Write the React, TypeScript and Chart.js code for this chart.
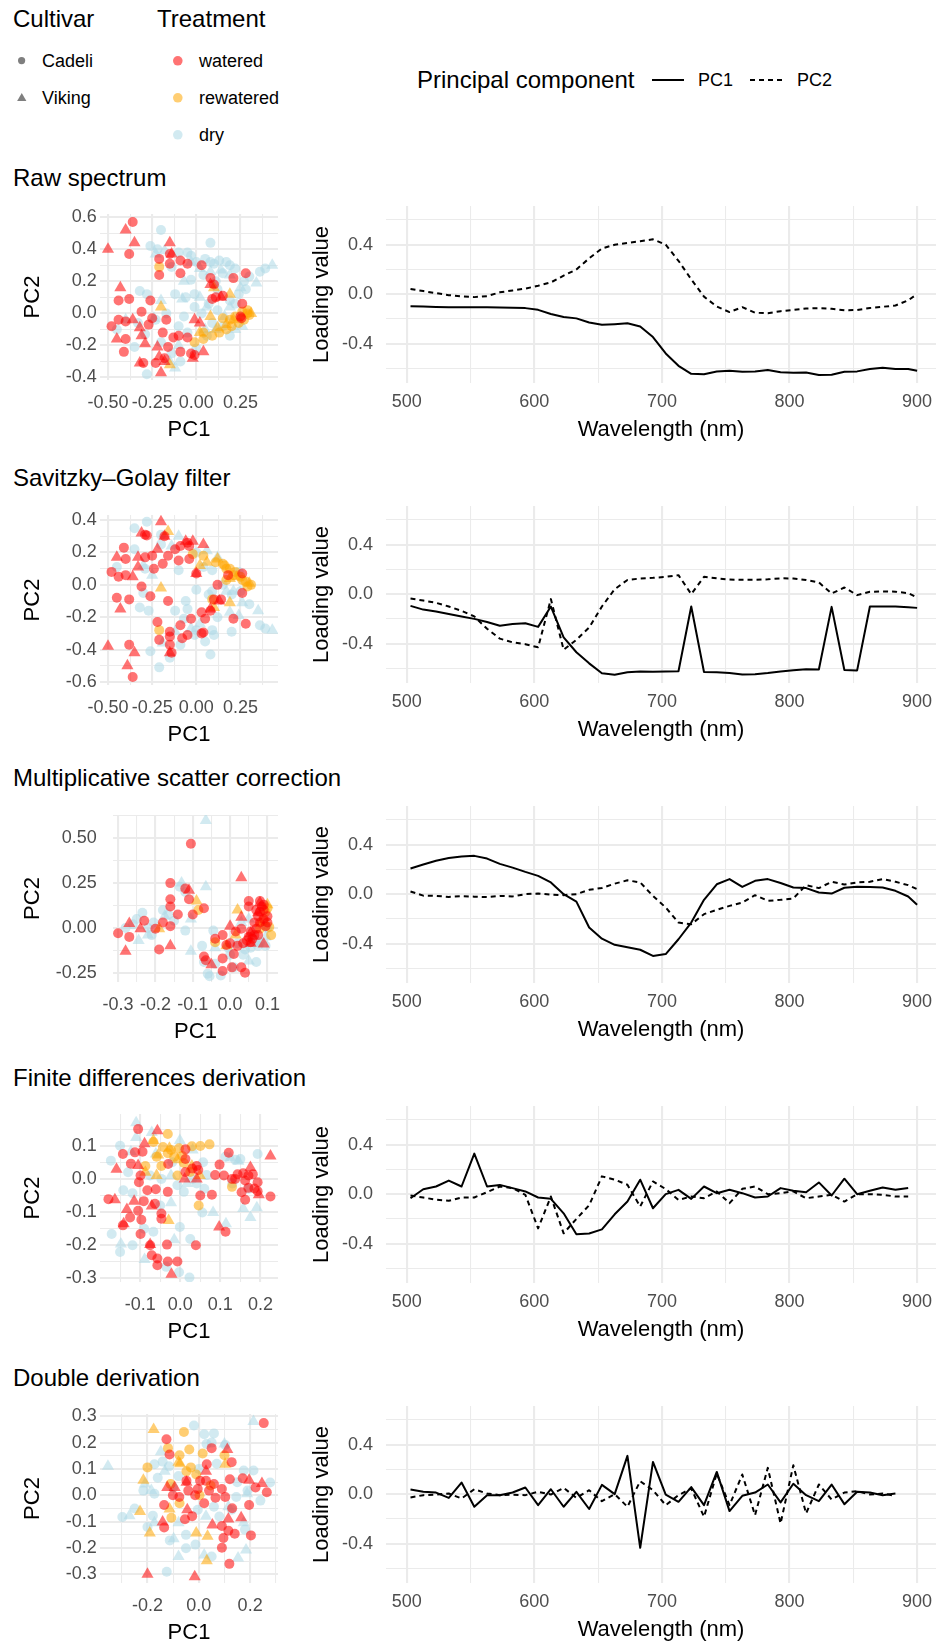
import React, { useEffect, useRef } from "react";
import { Chart, registerables } from "chart.js";
Chart.register(...registerables);

const FONT = "'Liberation Sans', Arial, Helvetica, sans-serif";
const GRID = "#EBEBEB";
const TICK_COLOR = "#4D4D4D";
const C_WATERED = "rgba(255,0,0,0.55)";
const C_REWATERED = "rgba(255,165,0,0.55)";
const C_DRY = "rgba(173,216,230,0.55)";

// ---------------- DATA ----------------
const rowTitles = ["Raw spectrum", "Savitzky–Golay filter", "Multiplicative scatter correction", "Finite differences derivation", "Double derivation"];

const wavelengths = [503, 513, 523, 533, 543, 553, 563, 573, 583, 593, 603, 613, 623, 633, 643, 653, 663, 673, 683, 693, 703, 713, 723, 733, 743, 753, 763, 773, 783, 793, 803, 813, 823, 833, 843, 853, 863, 873, 883, 893, 900];
const wavelengthsFD = wavelengths.slice(0, 40);
const wavelengthsDD = wavelengths.slice(0, 39);

const rawPC1 = [-0.097, -0.1, -0.103, -0.105, -0.105, -0.105, -0.106, -0.108, -0.11, -0.113, -0.127, -0.16, -0.185, -0.196, -0.229, -0.248, -0.243, -0.236, -0.261, -0.347, -0.48, -0.58, -0.645, -0.648, -0.626, -0.62, -0.628, -0.625, -0.614, -0.632, -0.636, -0.634, -0.655, -0.653, -0.628, -0.625, -0.605, -0.595, -0.606, -0.605, -0.62];
const rawPC2 = [0.042, 0.025, 0.008, -0.008, -0.018, -0.024, -0.016, 0.015, 0.03, 0.045, 0.068, 0.095, 0.15, 0.2, 0.29, 0.37, 0.4, 0.415, 0.428, 0.444, 0.4, 0.27, 0.12, -0.02, -0.1, -0.145, -0.105, -0.15, -0.155, -0.138, -0.127, -0.116, -0.113, -0.118, -0.13, -0.128, -0.112, -0.102, -0.092, -0.05, 0.0];
const sgPC1 = [-0.095, -0.125, -0.14, -0.16, -0.18, -0.2, -0.225, -0.255, -0.242, -0.235, -0.265, -0.1, -0.35, -0.47, -0.56, -0.64, -0.652, -0.632, -0.625, -0.628, -0.625, -0.624, -0.1, -0.63, -0.632, -0.638, -0.651, -0.648, -0.638, -0.625, -0.615, -0.607, -0.61, -0.103, -0.614, -0.617, -0.1, -0.1, -0.1, -0.105, -0.111];
const sgPC2 = [-0.035, -0.052, -0.07, -0.1, -0.135, -0.18, -0.28, -0.36, -0.39, -0.405, -0.43, -0.04, -0.45, -0.37, -0.27, -0.1, 0.04, 0.115, 0.127, 0.132, 0.14, 0.154, 0.0, 0.14, 0.128, 0.118, 0.116, 0.116, 0.12, 0.128, 0.127, 0.115, 0.095, 0.005, 0.054, -0.008, 0.019, 0.022, 0.02, 0.008, -0.027];
const mscPC1 = [0.208, 0.24, 0.27, 0.292, 0.305, 0.31, 0.288, 0.245, 0.215, 0.18, 0.148, 0.095, 0.0, -0.06, -0.27, -0.36, -0.41, -0.43, -0.45, -0.5, -0.485, -0.365, -0.23, -0.046, 0.08, 0.122, 0.059, 0.108, 0.122, 0.09, 0.054, 0.049, 0.014, 0.005, 0.052, 0.06, 0.058, 0.054, 0.027, -0.019, -0.085];
const mscPC2 = [0.022, -0.012, -0.014, -0.022, -0.016, -0.02, -0.024, -0.014, -0.018, 0.0, 0.005, -0.004, -0.008, 0.0, 0.035, 0.05, 0.085, 0.112, 0.095, -0.014, -0.108, -0.23, -0.243, -0.162, -0.127, -0.095, -0.068, -0.008, -0.054, -0.046, -0.035, 0.073, 0.049, 0.1, 0.078, 0.095, 0.1, 0.122, 0.1, 0.073, 0.041];
const fdPC1 = [-0.033, 0.04, 0.062, 0.11, 0.062, 0.328, 0.062, 0.075, 0.049, 0.022, -0.027, -0.038, -0.155, -0.325, -0.318, -0.285, -0.163, -0.06, 0.117, -0.114, 0.0, 0.035, -0.038, 0.062, 0.008, 0.035, 0.008, -0.027, -0.019, 0.049, 0.027, 0.016, 0.095, -0.011, 0.125, 0.0, 0.027, 0.054, 0.035, 0.049];
const fdPC2 = [-0.011, -0.027, -0.045, -0.054, -0.027, -0.027, 0.016, 0.062, 0.049, -0.005, -0.277, -0.019, -0.317, -0.2, -0.09, 0.144, 0.117, 0.076, -0.1, 0.103, 0.041, -0.046, -0.019, -0.033, 0.022, -0.073, 0.043, 0.062, 0.0, 0.008, 0.022, -0.033, -0.019, -0.005, -0.06, 0.0, 0.0, -0.005, -0.019, -0.019];
const ddPC1 = [0.038, 0.02, 0.013, -0.03, 0.094, -0.102, -0.008, -0.008, 0.013, 0.054, -0.089, 0.04, -0.102, 0.019, -0.12, 0.075, 0.0, 0.31, -0.434, 0.261, -0.003, -0.062, 0.057, -0.089, 0.18, -0.137, -0.013, 0.013, 0.078, -0.067, 0.084, -0.008, -0.057, 0.078, -0.081, 0.019, 0.013, -0.008, 0.005];
const ddPC2 = [-0.027, -0.008, -0.003, 0.005, -0.035, 0.04, 0.005, -0.008, -0.005, -0.008, 0.019, -0.003, 0.051, -0.03, 0.032, -0.057, 0.0, -0.102, 0.105, 0.032, -0.089, -0.008, 0.046, -0.183, 0.167, -0.089, 0.159, -0.17, 0.213, -0.237, 0.234, -0.156, 0.078, -0.043, 0.013, 0.024, -0.003, 0.005, -0.013];

type P = [number, number];
const rawWateredCadeli: P[] = [[-0.36,0.57],[-0.38,0.37],[-0.15,0.37],[-0.21,0.34],[-0.15,0.31],[-0.09,0.33],[-0.05,0.31],[0.03,0.30],[-0.21,0.24],[-0.09,0.25],[0.08,0.22],[0.21,0.22],[0.28,0.25],[0.10,0.18],[-0.44,0.08],[-0.38,0.09],[-0.26,0.08],[-0.31,0.01],[-0.25,-0.03],[-0.17,-0.04],[-0.44,-0.04],[-0.40,-0.05],[-0.48,-0.08],[-0.27,-0.07],[-0.19,-0.12],[-0.40,-0.16],[-0.41,-0.24],[-0.10,-0.14],[-0.05,-0.15],[-0.13,-0.15],[-0.09,-0.24],[-0.03,-0.25],[-0.01,-0.26],[-0.30,-0.31],[-0.23,-0.31],[-0.18,-0.28],[-0.16,-0.21],[0.26,0.06],[0.25,-0.02],[0.11,0.10],[0.15,0.11],[0.09,0.09],[0.255,-0.03]];
const rawWateredViking: P[] = [[-0.40,0.52],[-0.35,0.44],[-0.50,0.40],[-0.15,0.44],[-0.14,0.37],[-0.43,0.16],[0.08,0.18],[0.14,0.10],[-0.45,-0.16],[-0.36,-0.04],[-0.32,-0.09],[-0.31,-0.14],[-0.29,-0.19],[-0.22,-0.21],[-0.21,-0.27],[-0.20,-0.37],[-0.32,-0.31],[-0.01,-0.04],[0.02,-0.06],[-0.02,-0.28],[0.04,-0.24],[-0.18,-0.30]];
const rawRewateredCadeli: P[] = [[-0.21,0.29],[-0.01,-0.18],[0.04,-0.16],[0.19,-0.04],[0.22,-0.02],[0.26,0.01],[0.29,0.02],[0.29,0.0],[0.27,-0.04],[0.24,-0.06],[0.20,-0.08],[0.17,-0.10],[0.13,-0.12],[0.09,-0.14],[0.04,-0.12],[0.30,-0.01],[0.15,-0.03]];
const rawRewateredViking: P[] = [[-0.20,0.04],[0.19,0.12],[0.10,0.16],[0.02,-0.12],[0.12,-0.09],[0.17,-0.07],[0.21,-0.04],[0.31,0.0],[-0.15,-0.32],[0.08,-0.02]];
const rawDryCadeli: P[] = [[-0.20,0.52],[-0.26,0.42],[0.08,0.44],[-0.10,0.38],[-0.03,0.36],[0.00,0.32],[0.10,0.31],[0.19,0.30],[0.15,0.25],[-0.03,0.21],[-0.06,0.10],[-0.01,0.04],[-0.32,0.14],[-0.28,0.12],[-0.10,-0.08],[-0.29,-0.13],[-0.35,-0.21],[-0.28,-0.38],[-0.45,-0.10],[0.36,0.26],[0.39,0.28],[0.19,0.08],[0.22,0.06],[0.12,0.02],[0.09,-0.06],[0.06,-0.14],[0.19,-0.14],[-0.14,-0.25],[-0.09,-0.30],[0.08,0.32],[0.04,0.24],[-0.14,0.29],[0.17,0.32],[-0.07,-0.02],[0.0,-0.22],[-0.23,-0.04],[0.24,0.12],[0.27,0.20],[0.11,0.20],[-0.01,0.12],[-0.22,0.40],[-0.05,0.38],[0.05,0.34],[0.13,0.33],[0.22,0.28],[0.30,0.23],[-0.12,0.12],[-0.17,0.0],[0.03,0.0],[0.07,0.06],[-0.05,-0.12],[-0.20,-0.18],[-0.33,-0.06],[0.15,-0.08],[0.28,0.15],[0.12,0.15]];
const rawDryViking: P[] = [[-0.23,0.37],[-0.18,0.39],[-0.03,0.32],[0.02,0.28],[0.08,0.26],[0.19,0.24],[0.34,0.19],[0.43,0.30],[-0.20,0.08],[-0.24,-0.03],[0.05,-0.10],[0.11,-0.10],[-0.15,-0.30],[0.19,0.04],[0.22,-0.10],[0.26,-0.08],[0.02,0.10],[-0.08,0.09],[-0.40,-0.04],[-0.12,-0.34],[0.14,0.27],[0.25,0.16],[-0.07,0.20],[0.06,0.04],[0.16,-0.02],[-0.10,-0.20]];

const sgWateredCadeli: P[] = [[-0.29,0.31],[-0.28,0.305],[-0.41,0.23],[-0.40,0.16],[-0.48,0.08],[-0.44,0.05],[-0.40,0.06],[-0.31,-0.01],[-0.45,-0.08],[-0.38,-0.09],[-0.26,-0.07],[-0.16,-0.10],[-0.29,0.17],[-0.25,0.18],[-0.24,0.10],[-0.19,0.13],[-0.16,0.18],[-0.18,0.30],[-0.12,0.22],[-0.09,0.24],[-0.05,0.26],[-0.04,0.24],[-0.10,0.15],[-0.04,0.16],[0.00,0.07],[0.12,0.00],[0.18,0.06],[0.26,0.07],[0.26,-0.05],[0.10,-0.09],[0.14,-0.09],[0.08,-0.16],[0.03,-0.17],[-0.03,-0.21],[0.05,-0.21],[0.21,-0.21],[0.28,-0.24],[-0.09,-0.25],[-0.22,-0.23],[-0.08,-0.33],[-0.05,-0.31],[-0.15,-0.29],[-0.15,-0.32],[-0.15,-0.37],[-0.21,-0.34],[-0.14,-0.42],[0.03,-0.30],[0.04,-0.295],[-0.38,-0.37],[-0.36,-0.57]];
const sgWateredViking: P[] = [[-0.20,0.39],[-0.31,0.32],[-0.18,0.30],[-0.22,0.22],[-0.45,0.17],[-0.33,0.17],[-0.33,0.11],[-0.36,0.05],[-0.06,0.27],[-0.02,0.27],[0.04,0.25],[0.0,0.07],[0.13,-0.10],[0.08,-0.15],[-0.43,-0.15],[-0.50,-0.38],[-0.35,-0.42],[-0.39,-0.50],[-0.15,-0.42]];
const sgRewateredCadeli: P[] = [[-0.02,0.19],[0.04,0.18],[0.11,0.14],[0.16,0.12],[0.19,0.10],[0.22,0.08],[0.25,0.05],[0.28,0.02],[0.31,0.0],[0.29,-0.01],[0.26,0.03],[0.17,0.03],[0.09,-0.09],[-0.21,-0.28],[0.15,0.13],[0.17,0.10],[0.21,0.06]];
const sgRewateredViking: P[] = [[-0.16,0.33],[0.02,0.12],[0.06,0.14],[0.12,0.16],[0.19,0.04],[0.23,0.05],[0.30,0.01],[-0.20,-0.02],[0.19,-0.11],[0.10,-0.14]];
const sgDryCadeli: P[] = [[-0.28,0.39],[-0.20,0.31],[-0.35,0.22],[-0.45,0.11],[-0.29,0.10],[-0.10,0.09],[0.04,0.11],[0.09,0.09],[0.0,-0.03],[0.07,-0.06],[-0.06,-0.10],[-0.32,-0.14],[-0.27,-0.16],[-0.12,-0.16],[-0.07,-0.21],[0.0,-0.28],[0.09,-0.28],[0.10,-0.31],[0.20,-0.29],[0.36,-0.25],[0.39,-0.27],[0.20,-0.06],[0.25,-0.04],[0.09,-0.04],[-0.26,-0.41],[-0.21,-0.51],[0.08,-0.43],[-0.09,-0.37],[-0.01,-0.31],[0.24,0.08],[-0.35,0.35],[-0.20,0.25],[0.0,0.20],[0.15,0.0],[0.30,-0.12],[-0.05,-0.15],[0.12,-0.20],[-0.30,-0.05],[0.05,-0.35],[-0.15,-0.45]];
const sgDryViking: P[] = [[-0.10,0.30],[-0.14,0.24],[0.06,0.21],[0.12,0.17],[-0.25,0.06],[-0.30,0.12],[0.17,-0.04],[0.21,-0.04],[0.26,-0.11],[0.35,-0.16],[0.43,-0.28],[0.19,-0.17],[0.24,-0.19],[-0.19,-0.36],[-0.12,-0.29],[-0.03,-0.27],[0.02,-0.24]];

const mscWateredCadeli: P[] = [[-0.105,0.47],[-0.16,0.25],[-0.12,0.22],[-0.16,0.16],[-0.11,0.16],[-0.16,0.12],[-0.14,0.075],[-0.10,0.075],[-0.07,0.11],[-0.23,0.04],[-0.18,0.03],[-0.16,0.01],[-0.20,-0.005],[-0.27,-0.05],[-0.30,-0.03],[-0.19,-0.12],[-0.04,-0.06],[-0.02,-0.04],[-0.01,-0.095],[0.01,-0.145],[-0.02,-0.17],[-0.07,-0.16],[-0.065,-0.18],[-0.02,-0.24],[0.005,-0.22],[0.03,-0.22],[0.04,-0.25],[0.05,0.15],[0.05,0.12],[0.03,-0.005],[0.035,-0.085],[0.055,-0.08],[0.075,-0.04],[0.075,0.065],[0.08,0.09],[0.09,0.05],[0.10,0.065],[0.07,-0.005],[0.055,-0.02],[0.05,-0.05],[0.08,0.15],[0.09,0.10],[0.095,0.01],[0.065,0.03],[0.015,-0.02],[0.0,-0.085],[0.085,0.12],[0.06,-0.06],[0.08,0.03],[0.07,0.10],[0.09,0.13],[0.10,0.03],[0.065,-0.04],[0.045,-0.07],[0.02,-0.10]];
const mscWateredViking: P[] = [[-0.11,0.21],[0.03,0.28],[-0.27,0.025],[-0.24,-0.005],[-0.28,-0.13],[-0.16,-0.10],[0.0,0.01],[0.03,0.06],[-0.05,-0.205],[0.055,-0.03],[0.08,0.14],[0.09,-0.09],[0.055,-0.085],[0.075,0.085]];
const mscRewateredCadeli: P[] = [[-0.085,0.10],[-0.04,-0.08],[0.10,0.11],[0.105,0.005],[0.11,-0.04],[0.095,0.09],[0.09,0.04],[0.08,-0.005]];
const mscRewateredViking: P[] = [[-0.09,0.15],[0.02,0.10],[0.015,-0.04],[0.10,0.13],[-0.01,-0.10],[0.08,0.03],[-0.19,-0.005]];
const mscDryCadeli: P[] = [[-0.25,0.05],[-0.235,0.085],[-0.205,0.03],[-0.18,0.10],[-0.165,0.075],[-0.135,0.23],[-0.12,-0.015],[-0.21,-0.04],[-0.075,-0.10],[-0.07,-0.19],[-0.06,-0.255],[-0.055,-0.27],[-0.025,-0.265],[0.01,-0.22],[0.07,-0.19],[0.035,-0.15],[0.055,-0.11],[-0.005,-0.11],[0.02,-0.085],[0.095,-0.10],[0.075,-0.10],[-0.045,-0.015],[-0.28,0.0],[-0.22,0.0],[-0.15,0.04],[-0.12,0.20],[-0.04,-0.20],[0.0,-0.15],[0.04,-0.12],[0.06,-0.05],[0.08,-0.08],[0.10,0.0],[-0.26,0.02]];
const mscDryViking: P[] = [[-0.065,0.60],[-0.13,0.25],[-0.065,0.23],[-0.175,0.065],[-0.105,0.05],[-0.245,-0.07],[-0.22,-0.04],[-0.105,-0.13],[-0.04,-0.11],[0.05,-0.185],[0.05,0.05],[0.095,-0.05],[0.075,-0.085],[0.03,0.03]];

const fdWateredCadeli: P[] = [[-0.105,0.15],[-0.143,0.075],[-0.113,0.08],[-0.094,0.082],[-0.123,0.046],[-0.099,0.01],[-0.103,-0.01],[-0.082,-0.034],[-0.031,-0.039],[-0.061,-0.031],[-0.179,-0.061],[-0.091,-0.067],[-0.105,-0.096],[-0.125,-0.116],[-0.097,-0.123],[-0.063,-0.075],[-0.047,-0.104],[-0.047,-0.12],[-0.143,-0.14],[-0.099,-0.166],[-0.075,-0.20],[-0.071,-0.23],[-0.057,-0.24],[-0.057,-0.26],[-0.033,-0.198],[-0.031,-0.249],[-0.007,-0.249],[0.039,-0.20],[0.013,0.06],[0.030,0.031],[0.013,0.021],[0.045,0.027],[0.050,-0.05],[0.079,-0.048],[0.087,0.012],[0.098,0.043],[0.109,0.01],[0.121,0.079],[0.129,0.0],[0.143,0.014],[0.157,0.017],[0.162,-0.005],[0.17,0.01],[0.181,0.014],[0.193,-0.01],[0.185,-0.029],[0.193,-0.037],[0.17,-0.027],[0.153,-0.04],[0.162,-0.063],[0.225,-0.053],[0.113,-0.159],[0.013,0.089],[-0.030,0.045],[0.041,0.039],[0.137,0.0]];
const fdWateredViking: P[] = [[-0.057,0.145],[-0.089,0.106],[-0.159,0.029],[-0.105,0.040],[-0.163,-0.063],[-0.115,-0.067],[-0.133,-0.092],[-0.071,-0.082],[-0.141,-0.135],[-0.075,-0.198],[-0.022,-0.287],[0.011,0.0],[0.041,0.0],[0.097,-0.145],[0.175,0.034],[0.196,-0.048],[0.225,0.069]];
const fdRewateredCadeli: P[] = [[-0.031,0.135],[-0.067,0.111],[-0.043,0.096],[-0.023,0.087],[-0.003,0.092],[0.029,0.098],[0.050,0.099],[0.073,0.104],[-0.059,0.067],[-0.015,0.067],[0.005,0.069],[-0.087,0.039],[-0.047,0.039],[-0.007,0.01],[0.025,0.021],[0.129,-0.024],[0.046,-0.08],[-0.031,0.077],[0.009,0.048]];
const fdRewateredViking: P[] = [[-0.067,0.116],[-0.055,0.072],[-0.027,0.092],[-0.007,0.058],[0.029,0.039],[0.049,0.01],[-0.059,0.01],[-0.029,-0.125],[-0.087,0.02]];
const fdDryCadeli: P[] = [[-0.173,0.055],[-0.142,-0.034],[-0.119,-0.043],[-0.171,-0.166],[-0.119,-0.20],[-0.067,-0.159],[-0.035,-0.265],[-0.003,-0.281],[0.023,-0.297],[-0.001,-0.145],[0.025,-0.181],[0.055,-0.101],[0.193,0.075],[0.130,-0.014],[-0.007,-0.019],[0.009,-0.039],[0.041,-0.014],[0.066,0.012],[0.057,0.05],[0.113,0.067],[0.137,0.058],[-0.075,0.01],[-0.047,0.0],[-0.15,0.10],[-0.13,0.02],[-0.02,0.05],[0.03,0.0],[0.15,0.06],[0.17,-0.03],[-0.05,-0.08],[-0.09,-0.15],[-0.15,-0.22],[0.06,-0.03]];
const fdDryViking: P[] = [[-0.110,0.169],[-0.11,0.125],[-0.071,0.14],[-0.001,0.116],[0.031,0.087],[-0.123,0.082],[-0.061,0.075],[-0.023,0.01],[-0.023,-0.072],[0.082,-0.101],[0.114,-0.135],[0.157,-0.089],[0.175,-0.116],[0.191,-0.087],[-0.148,-0.196],[-0.089,-0.243],[-0.015,-0.183],[0.145,0.053],[0.125,0.063],[0.017,-0.014]];

const ddWateredCadeli: P[] = [[0.253,0.274],[-0.126,0.213],[-0.114,0.155],[0.05,0.179],[0.128,0.126],[0.031,0.118],[-0.048,0.055],[-0.004,0.024],[0.028,0.055],[0.059,0.043],[0.09,0.024],[0.121,0.061],[0.171,0.065],[0.221,0.03],[0.265,0.012],[0.196,-0.037],[0.13,-0.049],[0.103,-0.006],[0.065,-0.009],[0.021,-0.03],[-0.014,0.0],[-0.076,-0.006],[-0.101,0.0],[-0.135,-0.037],[-0.054,-0.091],[-0.026,-0.079],[-0.135,-0.122],[0.09,-0.116],[0.115,-0.134],[0.14,-0.146],[0.203,-0.152],[0.096,-0.162],[0.09,-0.199],[0.119,-0.26],[0.04,0.018],[-0.041,0.018],[0.005,0.055]];
const ddWateredViking: P[] = [[-0.123,0.03],[-0.094,0.03],[-0.048,0.05],[0.028,0.091],[0.111,0.174],[0.196,0.057],[0.246,0.045],[-0.045,-0.055],[-0.141,-0.101],[0.053,-0.113],[0.165,-0.085],[-0.2,-0.299],[-0.016,-0.309],[0.115,-0.09]];
const ddRewateredCadeli: P[] = [[-0.058,0.24],[-0.12,0.179],[-0.037,0.174],[0.015,0.159],[-0.075,0.152],[0.1,0.152],[-0.2,0.106],[-0.031,0.106],[-0.01,0.079],[-0.11,0.043],[0.003,0.0],[-0.075,-0.03],[-0.107,-0.085],[0.046,0.037],[-0.048,0.091]];
const ddRewateredViking: P[] = [[-0.176,0.25],[-0.079,0.126],[-0.216,0.057],[0.103,0.118],[-0.114,-0.052],[-0.229,-0.061],[-0.191,-0.143],[-0.01,-0.143],[0.034,-0.155],[0.031,-0.248],[-0.073,0.12]];
const ddDryCadeli: P[] = [[-0.019,0.265],[0.021,0.232],[0.059,0.235],[0.103,0.191],[0.03,0.195],[-0.173,0.118],[-0.141,0.128],[-0.116,0.11],[0.175,0.094],[0.213,0.094],[0.278,0.049],[-0.216,0.018],[-0.173,0.006],[-0.298,-0.082],[-0.179,-0.077],[-0.113,-0.171],[-0.05,-0.201],[-0.013,-0.187],[0.05,-0.232],[-0.125,-0.29],[0.146,-0.006],[0.19,0.018],[-0.079,0.073],[0.059,-0.043],[-0.004,-0.055],[0.128,-0.055],[-0.16,0.067],[-0.25,-0.05],[-0.10,0.03],[0.0,0.10],[0.07,0.12],[0.15,0.05],[0.24,-0.02],[-0.05,-0.15],[0.08,-0.08],[0.18,-0.13],[-0.20,-0.12],[0.05,0.20]];
const ddDryViking: P[] = [[-0.354,0.11],[-0.27,-0.077],[-0.21,0.043],[-0.185,0.018],[-0.148,0.165],[-0.133,0.091],[0.213,0.28],[0.1,0.195],[0.188,0.006],[0.175,-0.104],[0.184,-0.207],[0.153,-0.238],[0.021,-0.226],[-0.079,-0.232],[-0.098,-0.165],[0.028,-0.079],[0.115,-0.043],[-0.079,-0.104],[-0.173,-0.104]];

// tick labels
const lineXTicks = [500, 600, 700, 800, 900];
const lineXLabels = ["500", "600", "700", "800", "900"];
const lineXMinor = [550, 650, 750, 850];
const lineYTicks = [-0.4, 0, 0.4];
const lineYLabels = ["-0.4", "0.0", "0.4"];
const lineYMinor = [-0.6, -0.2, 0.2, 0.6];

const rawXTicks = [-0.5, -0.25, 0, 0.25];
const rawXLabels = ["-0.50", "-0.25", "0.00", "0.25"];
const rawYTicks = [-0.4, -0.2, 0, 0.2, 0.4, 0.6];
const rawYLabels = ["-0.4", "-0.2", "0.0", "0.2", "0.4", "0.6"];
const sgYTicks = [-0.6, -0.4, -0.2, 0, 0.2, 0.4];
const sgYLabels = ["-0.6", "-0.4", "-0.2", "0.0", "0.2", "0.4"];
const mscXTicks = [-0.3, -0.2, -0.1, 0, 0.1];
const mscXLabels = ["-0.3", "-0.2", "-0.1", "0.0", "0.1"];
const mscYTicks = [-0.25, 0, 0.25, 0.5];
const mscYLabels = ["-0.25", "0.00", "0.25", "0.50"];
const fdXTicks = [-0.1, 0, 0.1, 0.2];
const fdXLabels = ["-0.1", "0.0", "0.1", "0.2"];
const fdYTicks = [-0.3, -0.2, -0.1, 0, 0.1];
const fdYLabels = ["-0.3", "-0.2", "-0.1", "0.0", "0.1"];
const ddXTicks = [-0.2, 0, 0.2];
const ddXLabels = ["-0.2", "0.0", "0.2"];
const ddYTicks = [-0.3, -0.2, -0.1, 0, 0.1, 0.2, 0.3];
const ddYLabels = ["-0.3", "-0.2", "-0.1", "0.0", "0.1", "0.2", "0.3"];

// ---------------- HELPERS ----------------
type AxisSpec = { min: number; max: number; major: number[]; labels: string[]; minor: number[]; title: string };

function minorsBetween(major: number[], min: number, max: number): number[] {
  const step = major[1] - major[0];
  const out: number[] = [];
  for (let v = major[0] - step / 2; v <= max + 1e-9; v += step) {
    if (v >= min - 1e-9) out.push(Math.round(v * 10000) / 10000);
  }
  return out;
}

function buildAxis(spec: AxisSpec, horizontal: boolean, size: number, tickPad: number, titlePad: { top: number; bottom: number }) {
  const items = [
    ...spec.major.map((v, i) => ({ v, label: spec.labels[i], major: true })),
    ...spec.minor.map((v) => ({ v, label: "", major: false })),
  ].sort((a, b) => a.v - b.v);
  return {
    type: "linear",
    position: horizontal ? "bottom" : "left",
    min: spec.min,
    max: spec.max,
    bounds: "data",
    afterBuildTicks: (scale: any) => {
      scale.ticks = items.map((t) => ({ value: t.v }));
    },
    afterFit: (scale: any) => {
      if (horizontal) scale.height = size;
      else scale.width = size;
      scale.paddingTop = 0;
      scale.paddingBottom = 0;
      scale.paddingLeft = 0;
      scale.paddingRight = 0;
    },
    ticks: {
      autoSkip: false,
      maxRotation: 0,
      minRotation: 0,
      padding: tickPad,
      color: TICK_COLOR,
      font: { family: FONT, size: 18, lineHeight: 1 },
      callback: (_v: any, i: number) => (items[i] ? items[i].label : ""),
    },
    grid: {
      color: GRID,
      drawTicks: false,
      lineWidth: (ctx: any) => (items[ctx.index] && items[ctx.index].major ? 2.1 : 1.05),
    },
    border: { display: false },
    title: {
      display: true,
      text: spec.title,
      color: "#000",
      font: { family: FONT, size: 22, lineHeight: 1 },
      padding: titlePad,
    },
  };
}

type PanelDef = {
  kind: "line" | "scatter";
  left: number; top: number; right: number; bottom: number;
  yAxisW: number; xAxisH: number;
  xTickPad: number; yTickPad: number;
  xTitlePad: number; yTitlePad: number;
  x: AxisSpec; y: AxisSpec;
  datasets: any[];
};

function ChartPanel({ p }: { p: PanelDef }) {
  const ref = useRef<HTMLCanvasElement>(null);
  const w = p.right - p.left + p.yAxisW;
  const h = p.bottom - p.top + p.xAxisH;
  useEffect(() => {
    const chart = new Chart(ref.current as HTMLCanvasElement, {
      type: p.kind === "line" ? "line" : "scatter",
      data: { datasets: p.datasets },
      options: {
        animation: false,
        responsive: false,
        maintainAspectRatio: false,
        devicePixelRatio: 1,
        events: [],
        layout: { padding: 0 },
        plugins: { legend: { display: false }, tooltip: { enabled: false }, title: { display: false } },
        scales: {
          x: buildAxis(p.x, true, p.xAxisH, p.xTickPad, { top: 0, bottom: p.xTitlePad }),
          y: buildAxis(p.y, false, p.yAxisW, p.yTickPad, { top: p.yTitlePad, bottom: 0 }),
        } as any,
      } as any,
    });
    return () => chart.destroy();
  }, []);
  return (
    <canvas
      ref={ref}
      width={w}
      height={h}
      style={{ position: "absolute", left: p.left - p.yAxisW, top: p.top, width: w, height: h }}
    />
  );
}

function scatterSets(wc: P[], wv: P[], rc: P[], rv: P[], dc: P[], dv: P[]) {
  const mk = (pts: P[], color: string, tri: boolean) => ({
    data: pts.map(([x, y]) => ({ x, y })),
    pointStyle: tri ? "triangle" : "circle",
    pointRadius: tri ? 7 : 5,
    backgroundColor: color,
    borderColor: "rgba(0,0,0,0)",
    borderWidth: 0,
    pointBorderWidth: 0,
  });
  // first dataset is drawn last (on top)
  return [
    mk(wc, C_WATERED, false),
    mk(wv, C_WATERED, true),
    mk(rc, C_REWATERED, false),
    mk(rv, C_REWATERED, true),
    mk(dc, C_DRY, false),
    mk(dv, C_DRY, true),
  ];
}

function lineSets(xs: number[], pc1: number[], pc2: number[]) {
  const mk = (ys: number[], dash: number[]) => ({
    data: xs.map((x, i) => ({ x, y: ys[i] })),
    borderColor: "#000",
    borderWidth: 2,
    borderDash: dash,
    pointRadius: 0,
    fill: false,
    tension: 0,
    borderJoinStyle: "round",
  });
  return [mk(pc1, []), mk(pc2, [5, 4])];
}

// ---------------- LAYOUT ----------------
const ROW_STEP = 300;
const LINE_LEFT = 386;
const LINE_RIGHT = 936;
const LINE_TOP0 = 206;
const LINE_BOTTOM0 = 383;
const lineXSpec = (): AxisSpec => ({ min: 483.8, max: 914.8, major: lineXTicks, labels: lineXLabels, minor: lineXMinor, title: "Wavelength (nm)" });
const lineYSpec = (): AxisSpec => ({ min: -0.719, max: 0.7135, major: lineYTicks, labels: lineYLabels, minor: lineYMinor, title: "Loading value" });

const lineSeries = [
  lineSets(wavelengths, rawPC1, rawPC2),
  lineSets(wavelengths, sgPC1, sgPC2),
  lineSets(wavelengths, mscPC1, mscPC2),
  lineSets(wavelengthsFD, fdPC1, fdPC2),
  lineSets(wavelengthsDD, ddPC1, ddPC2),
];

const linePanels: PanelDef[] = lineSeries.map((ds, i) => ({
  kind: "line",
  left: LINE_LEFT, right: LINE_RIGHT,
  top: LINE_TOP0 + ROW_STEP * i, bottom: LINE_BOTTOM0 + ROW_STEP * i,
  yAxisW: 90, xAxisH: 64,
  xTickPad: 10, yTickPad: 13,
  xTitlePad: 6, yTitlePad: 14.7,
  x: lineXSpec(), y: lineYSpec(),
  datasets: ds,
}));

function scatterPanel(left: number, top: number, bottom: number, x: AxisSpec, y: AxisSpec, ds: any[]): PanelDef {
  return {
    kind: "scatter",
    left, top, right: 285, bottom,
    yAxisW: left, xAxisH: 64,
    xTickPad: 14, yTickPad: left - 96.7,
    xTitlePad: 3, yTitlePad: 22,
    x, y, datasets: ds,
  };
}

const scatterPanels: PanelDef[] = [
  scatterPanel(100, 207, 380,
    { min: -0.5452, max: 0.4624, major: rawXTicks, labels: rawXLabels, minor: minorsBetween(rawXTicks, -0.5452, 0.4624), title: "PC1" },
    { min: -0.4156, max: 0.62, major: rawYTicks, labels: rawYLabels, minor: minorsBetween(rawYTicks, -0.4156, 0.62), title: "PC2" },
    scatterSets(rawWateredCadeli, rawWateredViking, rawRewateredCadeli, rawRewateredViking, rawDryCadeli, rawDryViking)),
  scatterPanel(100, 508, 685,
    { min: -0.5452, max: 0.4624, major: rawXTicks, labels: rawXLabels, minor: minorsBetween(rawXTicks, -0.5452, 0.4624), title: "PC1" },
    { min: -0.619, max: 0.4317, major: sgYTicks, labels: sgYLabels, minor: minorsBetween(sgYTicks, -0.619, 0.4317), title: "PC2" },
    scatterSets(sgWateredCadeli, sgWateredViking, sgRewateredCadeli, sgRewateredViking, sgDryCadeli, sgDryViking)),
  scatterPanel(113, 808, 982,
    { min: -0.3136, max: 0.1283, major: mscXTicks, labels: mscXLabels, minor: minorsBetween(mscXTicks, -0.3136, 0.1283), title: "PC1" },
    { min: -0.3016, max: 0.63, major: mscYTicks, labels: mscYLabels, minor: minorsBetween(mscYTicks, -0.3016, 0.63), title: "PC2" },
    scatterSets(mscWateredCadeli, mscWateredViking, mscRewateredCadeli, mscRewateredViking, mscDryCadeli, mscDryViking)),
  scatterPanel(100, 1107, 1282,
    { min: -0.2001, max: 0.2438, major: fdXTicks, labels: fdXLabels, minor: minorsBetween(fdXTicks, -0.2001, 0.2438), title: "PC1" },
    { min: -0.3106, max: 0.1955, major: fdYTicks, labels: fdYLabels, minor: minorsBetween(fdYTicks, -0.3106, 0.1955), title: "PC2" },
    scatterSets(fdWateredCadeli, fdWateredViking, fdRewateredCadeli, fdRewateredViking, fdDryCadeli, fdDryViking)),
  scatterPanel(100, 1407, 1583,
    { min: -0.385, max: 0.3086, major: ddXTicks, labels: ddXLabels, minor: minorsBetween(ddXTicks, -0.385, 0.3086), title: "PC1" },
    { min: -0.3326, max: 0.3086, major: ddYTicks, labels: ddYLabels, minor: minorsBetween(ddYTicks, -0.3326, 0.3086), title: "PC2" },
    scatterSets(ddWateredCadeli, ddWateredViking, ddRewateredCadeli, ddRewateredViking, ddDryCadeli, ddDryViking)),
];

// ---------------- LEGEND ----------------
function Dot({ x, y, r, color }: { x: number; y: number; r: number; color: string }) {
  return (
    <svg style={{ position: "absolute", left: x - r, top: y - r }} width={2 * r} height={2 * r}>
      <circle cx={r} cy={r} r={r} fill={color} />
    </svg>
  );
}
function Tri({ x, y, r, color }: { x: number; y: number; r: number; color: string }) {
  const w = r * Math.sqrt(3);
  const pts = `${w / 2},0 ${w},${1.5 * r} 0,${1.5 * r}`;
  return (
    <svg style={{ position: "absolute", left: x - w / 2, top: y - r }} width={w} height={1.5 * r}>
      <polygon points={pts} fill={color} />
    </svg>
  );
}
function Txt({ x, y, size, children }: { x: number; y: number; size: number; children: React.ReactNode }) {
  return (
    <div style={{ position: "absolute", left: x, top: y - size / 2, font: `${size}px ${FONT}`, lineHeight: `${size}px`, color: "#000", whiteSpace: "nowrap" }}>
      {children}
    </div>
  );
}

function Legend() {
  return (
    <>
      <Txt x={13} y={19} size={24}>Cultivar</Txt>
      <Dot x={22} y={61} r={3.6} color="#7F7F7F" />
      <Txt x={42} y={61} size={18}>Cadeli</Txt>
      <Tri x={22} y={98} r={5.5} color="#7F7F7F" />
      <Txt x={42} y={98} size={18}>Viking</Txt>

      <Txt x={157} y={19} size={24}>Treatment</Txt>
      <Dot x={178} y={61} r={4.8} color={C_WATERED} />
      <Txt x={199} y={61} size={18}>watered</Txt>
      <Dot x={178} y={98} r={4.8} color={C_REWATERED} />
      <Txt x={199} y={98} size={18}>rewatered</Txt>
      <Dot x={178} y={135} r={4.8} color={C_DRY} />
      <Txt x={199} y={135} size={18}>dry</Txt>

      <Txt x={417} y={80} size={24}>Principal component</Txt>
      <svg style={{ position: "absolute", left: 650, top: 76 }} width={36} height={8}>
        <line x1={2} y1={4} x2={34} y2={4} stroke="#000" strokeWidth={2} />
      </svg>
      <Txt x={698} y={80} size={18}>PC1</Txt>
      <svg style={{ position: "absolute", left: 748, top: 76 }} width={40} height={8}>
        <line x1={2} y1={4} x2={36} y2={4} stroke="#000" strokeWidth={2} strokeDasharray="5 4" />
      </svg>
      <Txt x={797} y={80} size={18}>PC2</Txt>
    </>
  );
}

export default function App() {
  useEffect(() => {
    document.body.style.margin = "0";
  }, []);
  return (
    <div style={{ position: "absolute", left: 0, top: 0, width: 936, height: 1646, background: "#fff", overflow: "hidden" }}>
      <Legend />
      {rowTitles.map((t, i) => (
        <Txt key={t} x={13} y={178 + ROW_STEP * i} size={24}>{t}</Txt>
      ))}
      {scatterPanels.map((p, i) => (
        <ChartPanel key={"s" + i} p={p} />
      ))}
      {linePanels.map((p, i) => (
        <ChartPanel key={"l" + i} p={p} />
      ))}
    </div>
  );
}
